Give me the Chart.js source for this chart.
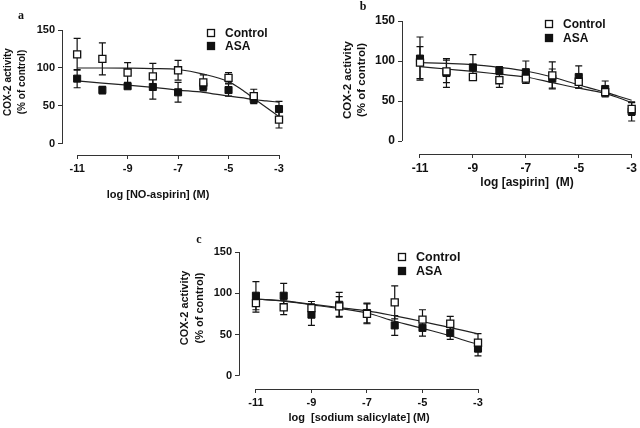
<!DOCTYPE html>
<html>
<head>
<meta charset="utf-8">
<script src="https://cdn.jsdelivr.net/npm/chart.js@4.4.1/dist/chart.umd.min.js"></script>
<style>
    html, body { margin: 0; padding: 0; background: #fff; }
    #page { position: relative; width: 640px; height: 428px; overflow: hidden; }
    .panel { position: absolute; }
</style>
</head>
<body>
<div id="page">
    <div class="panel" style="left:0px; top:0px;"><canvas id="chartA" width="320" height="210"></canvas></div>
    <div class="panel" style="left:320px; top:0px;"><canvas id="chartB" width="320" height="210"></canvas></div>
    <div class="panel" style="left:160px; top:215px;"><canvas id="chartC" width="340" height="213"></canvas></div>
</div>
<script>
// COX-2 activity vs log dose, three panels (a, b, c)

// ============================================
// Data
// ============================================

const xDoses = [-11, -10, -9, -8, -7, -6, -5, -4, -3];
const fitDoses = [-11, -10, -9, -8, -7, -6, -5, -4.5, -4, -3.5, -3];
const xTickValues = [-11, -9, -7, -5, -3];
const yTickValues = [0, 50, 100, 150];
const seriesNames = ['Control', 'ASA'];
const yTitleLines = ['COX-2 activity', '(% of control)'];

// a: NO-aspirin
const noAspControl = [118, 112, 94, 89, 97, 81, 87, 63, 32];
const noAspControlErr = [21, 21, 13, 17, 13, 10, 7, 9, 11];
const noAspAsa = [86, 71, 76, 75, 68, 76, 71, 59, 46];
const noAspAsaErr = [12, 5, 3, 16, 13, 6, 8, 6, 10];
const noAspControlFit = [100, 100, 99.8, 99.3, 98, 92, 82, 72, 60, 48, 36];
const noAspAsaFit = [83, 80, 77.5, 74.5, 71, 68, 63, 61, 58.5, 56.7, 55];

// b: aspirin
const aspControl = [98, 87, 80, 76, 78, 82, 74, 61, 40];
const aspControlErr = [20, 14, 4, 9, 6, 17, 8, 5, 8];
const aspAsa = [103, 85, 92, 88, 86, 78, 80, 65, 37];
const aspAsaErr = [27, 18, 16, 5, 14, 12, 14, 10, 12];
const aspControlFit = [93, 90, 87, 83.5, 80, 73, 66, 63, 59.5, 54, 48];
const aspAsaFit = [98, 97, 95.5, 92, 87.5, 80, 70, 65.5, 61, 56, 51];

// c: sodium salicylate
const salControl = [88, 83, 82, 84, 75, 89, 68, 63, 40];
const salControlErr = [11, 9, 8, 12, 12, 20, 12, 9, 11];
const salAsa = [97, 97, 74, 86, 76, 61, 58, 52, 33];
const salAsaErr = [17, 15, 13, 15, 12, 12, 10, 8, 9];
const salControlFit = [93, 90.7, 86.7, 82.6, 78.6, 72.5, 65.7, 62, 58.4, 54.6, 50.8];
const salAsaFit = [93, 90.5, 86, 81.5, 76, 66, 57.5, 53, 48.5, 43, 38];

const FONT = "'Liberation Sans', Arial, sans-serif";
const INK = '#111';

// ============================================
// Plugin: axis lines, error bars, texts, legend
// ============================================

const panelDecor = {
    id: 'panelDecor',
    beforeDatasetsDraw(chart) {
        const ctx = chart.ctx;
        const xs = chart.scales.x, ys = chart.scales.y;
        const area = chart.chartArea;
        ctx.save();
        ctx.strokeStyle = '#333';
        ctx.lineWidth = 1;
        ctx.beginPath();
        ctx.moveTo(area.left + 0.5, ys.getPixelForValue(yTickValues[0]));
        ctx.lineTo(area.left + 0.5, ys.getPixelForValue(yTickValues[yTickValues.length - 1]));
        ctx.moveTo(xs.getPixelForValue(xTickValues[0]), area.bottom + 0.5);
        ctx.lineTo(xs.getPixelForValue(xTickValues[xTickValues.length - 1]), area.bottom + 0.5);
        ctx.stroke();

        // error bars (under the markers)
        ctx.strokeStyle = INK;
        ctx.lineWidth = 1.2;
        chart.data.datasets.forEach(ds => {
            if (!ds.errors) return;
            ds.data.forEach((pt, j) => {
                const px = xs.getPixelForValue(pt.x);
                const top = ys.getPixelForValue(pt.y + ds.errors[j]);
                const bot = ys.getPixelForValue(pt.y - ds.errors[j]);
                ctx.beginPath();
                ctx.moveTo(px, top); ctx.lineTo(px, bot);
                ctx.moveTo(px - 3.5, top); ctx.lineTo(px + 3.5, top);
                ctx.moveTo(px - 3.5, bot); ctx.lineTo(px + 3.5, bot);
                ctx.stroke();
            });
        });
        ctx.restore();
    },
    afterDraw(chart, args, opts) {
        const ctx = chart.ctx;
        ctx.save();
        ctx.fillStyle = INK;

        // panel letter
        ctx.font = 'bold 12px "Liberation Serif", serif';
        ctx.textAlign = 'center';
        ctx.textBaseline = 'middle';
        ctx.fillText(opts.letter, opts.letterPos[0], opts.letterPos[1]);

        // y title, two rotated lines
        ctx.font = 'bold ' + opts.yTitleSize + 'px ' + FONT;
        yTitleLines.forEach((line, i) => {
            ctx.save();
            ctx.translate(opts.yTitleX[i], opts.yTitleY);
            ctx.rotate(-Math.PI / 2);
            ctx.fillText(line, 0, 0);
            ctx.restore();
        });

        // x title
        ctx.font = 'bold ' + opts.xTitleSize + 'px ' + FONT;
        ctx.fillText(opts.xTitle, opts.xTitlePos[0], opts.xTitlePos[1]);

        // legend
        ctx.font = 'bold ' + opts.legendSize + 'px ' + FONT;
        ctx.textAlign = 'left';
        seriesNames.forEach((name, i) => {
            const mx = opts.legendPos[0];
            const my = opts.legendPos[1] + i * opts.legendGap;
            ctx.fillStyle = i === 0 ? '#fff' : INK;
            ctx.strokeStyle = INK;
            ctx.lineWidth = 1.3;
            ctx.fillRect(mx - 3.5, my - 3.5, 7, 7);
            ctx.strokeRect(mx - 3.5, my - 3.5, 7, 7);
            ctx.fillStyle = INK;
            ctx.fillText(name, mx + 14, my + 0.5);
        });
        ctx.restore();
    }
};

// ============================================
// Chart builder
// ============================================

function toPoints(xValues, yValues) {
    return xValues.map((x, i) => ({ x: x, y: yValues[i] }));
}

function buildPanel(canvasId, cfg) {
    const ctx = document.getElementById(canvasId).getContext('2d');
    const tickFont = { family: FONT, size: cfg.tickSize, weight: 'bold' };

    new Chart(ctx, {
        type: 'scatter',
        data: {
            datasets: [
                {
                    label: seriesNames[0],
                    data: toPoints(xDoses, cfg.control),
                    errors: cfg.controlErr,
                    pointStyle: 'rect',
                    pointRadius: 5,
                    pointBackgroundColor: '#fff',
                    pointBorderColor: INK,
                    pointBorderWidth: 1.3,
                    clip: false
                },
                {
                    label: seriesNames[1],
                    data: toPoints(xDoses, cfg.asa),
                    errors: cfg.asaErr,
                    pointStyle: 'rect',
                    pointRadius: 5,
                    pointBackgroundColor: INK,
                    pointBorderColor: INK,
                    pointBorderWidth: 1,
                    clip: false
                },
                {
                    data: toPoints(fitDoses, cfg.controlFit),
                    showLine: true,
                    pointRadius: 0,
                    borderColor: '#222',
                    borderWidth: 1.2,
                    cubicInterpolationMode: 'monotone',
                    clip: false
                },
                {
                    data: toPoints(fitDoses, cfg.asaFit),
                    showLine: true,
                    pointRadius: 0,
                    borderColor: '#222',
                    borderWidth: 1.2,
                    cubicInterpolationMode: 'monotone',
                    clip: false
                }
            ]
        },
        options: {
            responsive: false,
            animation: false,
            devicePixelRatio: 1,
            layout: { padding: { left: 0, right: cfg.padRight, top: cfg.padTop, bottom: 0 } },
            plugins: {
                legend: { display: false },
                tooltip: { enabled: false },
                panelDecor: cfg.decor
            },
            scales: {
                x: {
                    type: 'linear',
                    min: cfg.xMin,
                    max: -3,
                    afterFit: function(scale) { scale.height = cfg.xHeight; },
                    afterBuildTicks: function(scale) {
                        scale.ticks = xTickValues.map(v => ({ value: v }));
                    },
                    border: { display: false },
                    grid: { drawOnChartArea: false, drawTicks: true, tickLength: 4, color: '#333' },
                    ticks: { font: tickFont, color: INK, padding: 3, maxRotation: 0 }
                },
                y: {
                    type: 'linear',
                    min: cfg.yMin,
                    max: 150,
                    afterFit: function(scale) { scale.width = cfg.yWidth; },
                    afterBuildTicks: function(scale) {
                        scale.ticks = yTickValues.map(v => ({ value: v }));
                    },
                    border: { display: false },
                    grid: { drawOnChartArea: false, drawTicks: true, tickLength: 4, color: '#333' },
                    ticks: { font: tickFont, color: INK, padding: 3 }
                }
            }
        },
        plugins: [panelDecor]
    });
}

// ============================================
// Panels
// ============================================

buildPanel('chartA', {
    control: noAspControl, controlErr: noAspControlErr,
    asa: noAspAsa, asaErr: noAspAsaErr,
    controlFit: noAspControlFit, asaFit: noAspAsaFit,
    xMin: -11.6, yMin: -14.5,
    yWidth: 62, xHeight: 55, padRight: 41, padTop: 30,
    tickSize: 11,
    decor: {
        letter: 'a', letterPos: [21, 16],
        yTitleX: [8, 22], yTitleY: 82, yTitleSize: 10,
        xTitle: 'log [NO-aspirin] (M)', xTitlePos: [158, 195], xTitleSize: 11,
        legendPos: [211, 33], legendGap: 13, legendSize: 12
    }
});

buildPanel('chartB', {
    control: aspControl, controlErr: aspControlErr,
    asa: aspAsa, asaErr: aspAsaErr,
    controlFit: aspControlFit, asaFit: aspAsaFit,
    xMin: -11.68, yMin: -16.25,
    yWidth: 82, xHeight: 56, padRight: 7, padTop: 21,
    tickSize: 12,
    decor: {
        letter: 'b', letterPos: [43, 7],
        yTitleX: [28, 42], yTitleY: 80, yTitleSize: 11.5,
        xTitle: 'log [aspirin]  (M)', xTitlePos: [207, 183], xTitleSize: 12,
        legendPos: [229, 24], legendGap: 14, legendSize: 12
    }
});

buildPanel('chartC', {
    control: salControl, controlErr: salControlErr,
    asa: salAsa, asaErr: salAsaErr,
    controlFit: salControlFit, asaFit: salAsaFit,
    xMin: -11.61, yMin: -16.1,
    yWidth: 79, xHeight: 39, padRight: 22, padTop: 37,
    tickSize: 11,
    decor: {
        letter: 'c', letterPos: [39, 25],
        yTitleX: [25, 40], yTitleY: 93, yTitleSize: 11,
        xTitle: 'log  [sodium salicylate] (M)', xTitlePos: [199, 203], xTitleSize: 11,
        legendPos: [242, 42], legendGap: 14, legendSize: 12.5
    }
});
</script>
</body>
</html>
